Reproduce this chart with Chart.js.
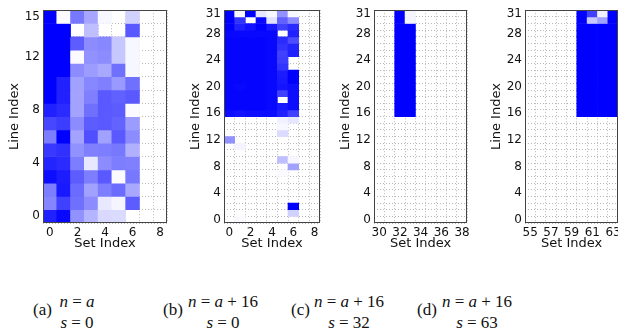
<!DOCTYPE html>
<html lang="en">
<head>
  <meta charset="UTF-8" />
  <title>Cache set occupancy</title>
  <script src="https://cdn.jsdelivr.net/npm/chart.js"></script>
  <style>
    body {
      margin: 0;
      width: 618px;
      height: 333px;
      overflow: hidden;
      position: relative;
      background: #fff;
    }
    canvas {
      position: absolute;
      top: 0;
    }
    .tag {
      position: absolute;
      top: 300px;
      font-family: "Liberation Serif", serif;
      font-size: 17px;
      color: #111;
    }
    .math {
      position: absolute;
      top: 291px;
      width: 120px;
      text-align: center;
      font-family: "Liberation Serif", serif;
      font-size: 17px;
      line-height: 21px;
      color: #111;
    }
  </style>
</head>
<body>
  <canvas id="chartA" width="170" height="255" style="left:0px"></canvas>
  <canvas id="chartB" width="142" height="255" style="left:181px"></canvas>
  <canvas id="chartC" width="142" height="255" style="left:331px"></canvas>
  <canvas id="chartD" width="142" height="255" style="left:482px"></canvas>

  <div class="tag" style="left:33px">(a)</div>
  <div class="math" style="left:17px"><i>n</i> = <i>a</i><br><i>s</i> = 0</div>
  <div class="tag" style="left:163px">(b)</div>
  <div class="math" style="left:163px"><i>n</i> = <i>a</i> + 16<br><i>s</i> = 0</div>
  <div class="tag" style="left:291px">(c)</div>
  <div class="math" style="left:289px"><i>n</i> = <i>a</i> + 16<br><i>s</i> = 32</div>
  <div class="tag" style="left:417px">(d)</div>
  <div class="math" style="left:417px"><i>n</i> = <i>a</i> + 16<br><i>s</i> = 63</div>

  <script>
    // (a) n = a, s = 0 -- rows listed top to bottom
    const rowsA = [15, 14, 13, 12, 11, 10, 9, 8, 7, 6, 5, 4, 3, 2, 1, 0];
    const colsA = [0, 1, 2, 3, 4, 5, 6];
    const heatA = [
      [1.00, 0.02, 0.53, 0.35, 0.03, 0.00, 0.18],
      [1.00, 1.00, 0.00, 0.25, 0.00, 0.00, 0.65],
      [1.00, 1.00, 0.64, 0.45, 0.47, 0.22, 0.03],
      [1.00, 1.00, 0.02, 0.43, 0.45, 0.22, 0.03],
      [1.00, 1.00, 0.45, 0.39, 0.34, 0.56, 0.03],
      [1.00, 0.87, 0.37, 0.47, 0.50, 0.40, 0.56],
      [1.00, 0.87, 0.36, 0.50, 0.65, 0.62, 0.65],
      [0.87, 0.83, 0.36, 0.56, 0.65, 0.64, 0.02],
      [0.72, 0.76, 0.45, 0.64, 0.65, 0.61, 0.39],
      [0.51, 1.00, 0.36, 0.69, 0.37, 0.65, 0.45],
      [0.78, 0.81, 0.43, 0.50, 0.51, 0.53, 0.31],
      [0.86, 0.83, 0.51, 0.09, 0.45, 0.51, 0.50],
      [0.95, 0.89, 0.64, 0.51, 0.65, 0.02, 0.53],
      [0.51, 0.90, 0.58, 0.37, 0.51, 0.58, 0.34],
      [0.48, 0.75, 0.56, 0.45, 0.09, 0.04, 0.64],
      [0.87, 0.97, 0.43, 0.29, 0.15, 0.14, 0.00]
    ];
    const xTicksA = [0, 2, 4, 6, 8];
    const yTicksA = [0, 4, 8, 12, 15];

    // (b) n = a + 16, s = 0
    const rowsB = [31, 30, 29, 28, 27, 26, 25, 24, 23, 22, 21, 20, 19, 18, 17, 16,
                   15, 14, 13, 12, 11, 10, 9, 8, 7, 6, 5, 4, 3, 2, 1, 0];
    const colsB = [0, 1, 2, 3, 4, 5, 6];
    const heatB = [
      [1.00, 0.03, 1.00, 0.10, 0.03, 0.43, 0.03],
      [1.00, 0.80, 0.00, 0.97, 0.12, 0.62, 0.45],
      [1.00, 0.87, 0.93, 1.00, 0.90, 0.75, 0.83],
      [0.97, 0.97, 0.97, 0.97, 0.97, 0.00, 0.87],
      [0.98, 0.98, 0.98, 0.98, 0.97, 0.83, 0.70],
      [0.98, 0.98, 0.98, 0.98, 0.97, 0.80, 0.86],
      [0.98, 0.98, 0.98, 0.98, 0.97, 0.75, 0.87],
      [0.98, 0.98, 0.98, 0.98, 0.97, 0.76, 0.00],
      [0.98, 0.98, 0.98, 0.98, 0.97, 0.80, 0.00],
      [0.98, 0.98, 0.98, 0.98, 0.97, 0.89, 1.00],
      [0.98, 0.98, 0.98, 0.98, 0.97, 0.90, 1.00],
      [0.98, 0.97, 0.98, 0.98, 0.97, 0.92, 0.95],
      [0.98, 0.98, 0.98, 0.98, 0.97, 0.75, 0.95],
      [0.98, 0.98, 0.98, 0.98, 0.97, 0.00, 0.95],
      [0.98, 0.98, 0.98, 0.98, 0.97, 0.90, 0.95],
      [0.95, 0.93, 0.95, 0.95, 0.95, 0.87, 0.75],
      [0.00, 0.00, 0.00, 0.00, 0.00, 0.05, 0.10],
      [0.00, 0.00, 0.00, 0.00, 0.00, 0.03, 0.00],
      [0.00, 0.00, 0.00, 0.00, 0.00, 0.14, 0.00],
      [0.43, 0.00, 0.00, 0.00, 0.00, 0.00, 0.00],
      [0.00, 0.04, 0.00, 0.00, 0.00, 0.00, 0.00],
      [0.00, 0.00, 0.00, 0.00, 0.00, 0.00, 0.00],
      [0.00, 0.00, 0.00, 0.00, 0.00, 0.25, 0.03],
      [0.00, 0.00, 0.00, 0.00, 0.00, 0.00, 0.37],
      [0.00, 0.00, 0.00, 0.00, 0.00, 0.02, 0.00],
      [0.00, 0.00, 0.00, 0.00, 0.00, 0.00, 0.00],
      [0.00, 0.00, 0.00, 0.00, 0.00, 0.00, 0.00],
      [0.00, 0.00, 0.00, 0.00, 0.00, 0.00, 0.00],
      [0.00, 0.00, 0.00, 0.00, 0.00, 0.00, 0.00],
      [0.00, 0.00, 0.00, 0.00, 0.00, 0.00, 1.00],
      [0.00, 0.00, 0.00, 0.00, 0.00, 0.00, 0.18],
      [0.00, 0.02, 0.00, 0.00, 0.00, 0.00, 0.00]
    ];
    const xTicksB = [0, 2, 4, 6, 8];
    const yTicksB = [0, 4, 8, 12, 16, 20, 24, 28, 31];

    // (c) n = a + 16, s = 32 -- only rows 16..31 hold anything
    const rowsC = [31, 30, 29, 28, 27, 26, 25, 24, 23, 22, 21, 20, 19, 18, 17, 16];
    const colsC = [32, 33];
    const heatC = [
      [1.00, 0.04], [1.00, 0.04], [1.00, 1.00], [1.00, 1.00],
      [1.00, 1.00], [1.00, 1.00], [1.00, 1.00], [1.00, 1.00],
      [1.00, 1.00], [1.00, 1.00], [1.00, 1.00], [1.00, 1.00],
      [1.00, 1.00], [1.00, 1.00], [1.00, 1.00], [1.00, 1.00]
    ];
    const xTicksC = [30, 32, 34, 36, 38];
    const yTicksC = [0, 4, 8, 12, 16, 20, 24, 28, 31];

    // (d) n = a + 16, s = 63
    const rowsD = [31, 30, 29, 28, 27, 26, 25, 24, 23, 22, 21, 20, 19, 18, 17, 16];
    const colsD = [60, 61, 62, 63];
    const heatD = [
      [1.00, 0.75, 0.06, 1.00], [1.00, 0.22, 0.37, 1.00],
      [1.00, 1.00, 1.00, 1.00], [1.00, 1.00, 1.00, 1.00],
      [1.00, 1.00, 1.00, 1.00], [1.00, 1.00, 1.00, 1.00],
      [1.00, 1.00, 1.00, 1.00], [1.00, 1.00, 1.00, 1.00],
      [1.00, 1.00, 1.00, 1.00], [1.00, 1.00, 1.00, 1.00],
      [1.00, 1.00, 1.00, 1.00], [1.00, 1.00, 1.00, 1.00],
      [1.00, 1.00, 1.00, 1.00], [1.00, 1.00, 1.00, 1.00],
      [1.00, 1.00, 1.00, 1.00], [1.00, 1.00, 1.00, 1.00]
    ];
    const xTicksD = [55, 57, 59, 61, 63];
    const yTicksD = [0, 4, 8, 12, 16, 20, 24, 28, 31];

    const tickFont = { family: "DejaVu Sans", size: 12 };
    const titleFont = { family: "DejaVu Sans", size: 13 };
    const textColor = "#111";

    // white -> pure blue
    function shade(v) {
      if (v <= 0) return "rgba(0,0,0,0)";
      const c = Math.round(255 * (1 - v));
      return `rgb(${c},${c},255)`;
    }

    // grid lines sit on the cell edges
    function edgeTicks(min, max) {
      const out = [];
      for (let v = min; v <= max + 1e-9; v += 1) out.push({ value: v });
      return out;
    }

    const frame = {
      id: "frame",
      afterDatasetsDraw(chart) {
        const { ctx, chartArea } = chart;
        const l = Math.round(chartArea.left) + 0.5;
        const t = Math.round(chartArea.top) + 0.5;
        const r = Math.round(chartArea.right) - 0.5;
        const b = Math.round(chartArea.bottom) - 0.5;
        ctx.save();
        ctx.strokeStyle = "#444";
        ctx.lineWidth = 1;
        ctx.strokeRect(l, t, r - l, b - t);
        ctx.restore();
      }
    };

    function drawPanel(id, rows, cols, heat, xTicks, yTicks, xRange, yRange) {
      const datasets = rows.map((r, i) => ({
        data: cols.map(c => ({ x: c, y: [r - 0.5, r + 0.5] })),
        backgroundColor: heat[i].map(shade),
        borderWidth: 0,
        grouped: false,
        barPercentage: 1,
        categoryPercentage: 1,
        xAxisID: "x",
        yAxisID: "y"
      }));

      const gridAxis = (range) => ({
        type: "linear",
        min: range[0],
        max: range[1],
        offset: false,
        grid: { color: "#b8b8b8", lineWidth: 1, drawTicks: false, offset: false },
        border: { display: false, dash: [1, 2] },
        ticks: { display: false },
        afterBuildTicks: s => { s.ticks = edgeTicks(range[0], range[1]); }
      });

      new Chart(document.getElementById(id), {
        type: "bar",
        data: { datasets },
        options: {
          responsive: false,
          animation: false,
          layout: { padding: { top: 7, right: 3, left: 0, bottom: 0 } },
          plugins: { legend: { display: false }, tooltip: { enabled: false } },
          scales: {
            x: Object.assign(gridAxis(xRange), {
              position: "bottom",
              afterFit: s => { s.height = 0; }
            }),
            y: Object.assign(gridAxis(yRange), {
              position: "left",
              afterFit: s => { s.width = 0; }
            }),
            xl: {
              type: "linear",
              position: "bottom",
              min: xRange[0],
              max: xRange[1],
              offset: false,
              grid: { display: false, drawTicks: false, offset: false },
              border: { display: false },
              ticks: { autoSkip: false, maxRotation: 0, padding: 3, font: tickFont, color: textColor },
              afterBuildTicks: s => { s.ticks = xTicks.map(v => ({ value: v })); },
              title: { display: true, text: "Set Index", font: titleFont, color: textColor, padding: { top: 2, bottom: 4 } },
              afterFit: s => { s.height = 32; }
            },
            yl: {
              type: "linear",
              position: "left",
              min: yRange[0],
              max: yRange[1],
              offset: false,
              grid: { display: false, drawTicks: false, offset: false },
              border: { display: false },
              ticks: { autoSkip: false, padding: 3, font: tickFont, color: textColor },
              afterBuildTicks: s => { s.ticks = yTicks.map(v => ({ value: v })); },
              title: { display: true, text: "Line Index", font: titleFont, color: textColor, padding: { top: 7, bottom: 2 } },
              afterFit: s => { s.width = 43; }
            }
          }
        },
        plugins: [frame]
      });
    }

    drawPanel("chartA", rowsA, colsA, heatA, xTicksA, yTicksA, [-0.5, 8.5], [-0.5, 15.5]);
    drawPanel("chartB", rowsB, colsB, heatB, xTicksB, yTicksB, [-0.5, 8.5], [-0.5, 31.5]);
    drawPanel("chartC", rowsC, colsC, heatC, xTicksC, yTicksC, [29.5, 38.5], [-0.5, 31.5]);
    drawPanel("chartD", rowsD, colsD, heatD, xTicksD, yTicksD, [54.5, 63.5], [-0.5, 31.5]);
  </script>
</body>
</html>
